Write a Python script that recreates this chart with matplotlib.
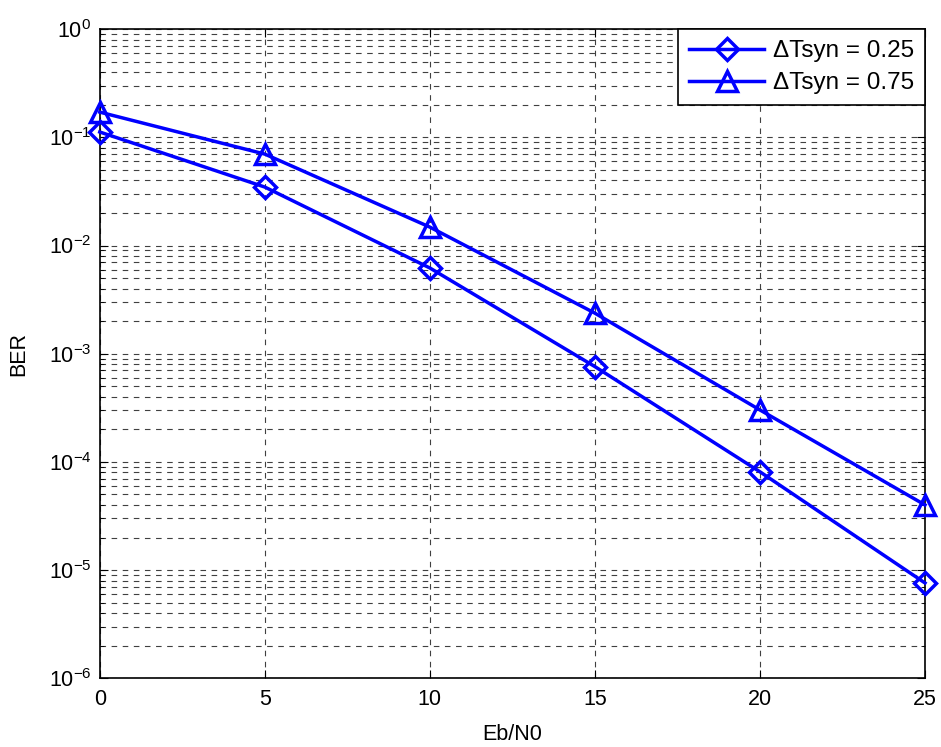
import numpy as np
import matplotlib.pyplot as plt
from matplotlib.ticker import LogLocator, FixedLocator, NullFormatter

plt.rcParams['font.family'] = ['Liberation Sans', 'DejaVu Sans']
plt.rcParams['mathtext.fontset'] = 'custom'
plt.rcParams['mathtext.rm'] = 'Liberation Sans'
plt.rcParams['mathtext.it'] = 'Liberation Sans:italic'
plt.rcParams['mathtext.bf'] = 'Liberation Sans:bold'

# === Data ===
ebn0 = [0, 5, 10, 15, 20, 25]
ber_025 = [0.112, 0.0347, 0.0062, 0.00076, 8.1e-5, 7.6e-6]
ber_075 = [0.171, 0.070, 0.0148, 0.00237, 3.02e-4, 4.0e-5]
labels = ["\u0394Tsyn = 0.25", "\u0394Tsyn = 0.75"]
y_decades = [1e-6, 1e-5, 1e-4, 1e-3, 1e-2, 1e-1, 1e0]

fig = plt.figure(figsize=(9.41, 7.47), dpi=100)
ax = fig.add_axes([0.106, 0.092, 0.877, 0.869])

ax.semilogy(ebn0, ber_025, "b-", marker="D", markersize=11, markerfacecolor="none",
            markeredgewidth=2.5, linewidth=2.5, label=labels[0], zorder=3,
            clip_on=False)
ax.semilogy(ebn0, ber_075, "b-", marker="^", markersize=14, markerfacecolor="none",
            markeredgewidth=2.5, linewidth=2.5, label=labels[1], zorder=3,
            clip_on=False)

ax.set_xlim(0, 25)
ax.set_ylim(1e-6, 1)
ax.xaxis.set_major_locator(FixedLocator(ebn0))
ax.yaxis.set_major_locator(FixedLocator(y_decades))
ax.yaxis.set_minor_locator(LogLocator(base=10, subs=np.arange(2, 10), numticks=20))
ax.yaxis.set_minor_formatter(NullFormatter())

# MATLAB-like dotted grid
grid_style = dict(color="0.25", linestyle=(0, (5, 5)), linewidth=0.8)
ax.grid(True, which="major", axis="both", **grid_style)
ax.grid(True, which="minor", axis="y", **grid_style)
ax.set_axisbelow(True)

ax.tick_params(which="both", direction="in", top=True, right=True, labelsize=15.5)
ax.tick_params(which="major", length=6)
ax.tick_params(which="minor", length=3)
ax.tick_params(axis="x", pad=8)
ax.tick_params(axis="y", pad=6)
for s in ax.spines.values():
    s.set_linewidth(1.2)

ax.set_xlabel("Eb/N0", fontsize=15.5, labelpad=10)
ax.set_ylabel("BER", fontsize=15.5, labelpad=14)

leg = ax.legend(loc="upper right", fontsize=17.5, fancybox=False, framealpha=1,
                edgecolor="k", borderaxespad=0, handlelength=3.1,
                handletextpad=0.35, labelspacing=0.42, borderpad=0.45)
leg.get_frame().set_linewidth(1.2)

plt.savefig("out.png", dpi=100)
